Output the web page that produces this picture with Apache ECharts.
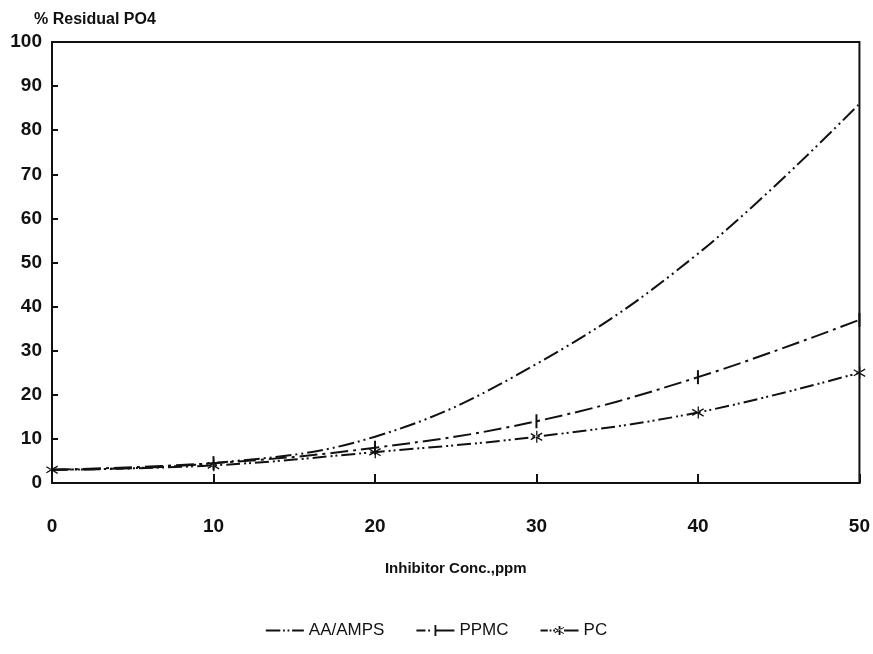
<!DOCTYPE html>
<html>
<head>
<meta charset="utf-8">
<script src="https://cdn.jsdelivr.net/npm/echarts@6/dist/echarts.min.js"></script>
<style>
  html, body { margin: 0; padding: 0; background: #fff; }
  #chart { width: 873px; height: 654px; }
</style>
</head>
<body>
<div id="chart"></div>
<script>
// data
var conc = [0, 10, 20, 30, 40, 50];
var aaAmps = [3, 4.5, 10.5, 27, 52, 86];
var ppmc = [3, 4.5, 8, 14, 24, 37];
var pc = [3, 4, 7, 10.5, 16, 25];
var yTicks = [0, 10, 20, 30, 40, 50, 60, 70, 80, 90, 100];

var font = "Liberation Sans, Arial, sans-serif";
var ink = "#111";
// asterisk marker for PC, thin vertical bar for PPMC
var star = "path://M9,0H11V20H9ZM1,4L19,15L18,17L0,6ZM1,16L19,5L18,3L0,14Z";

// legend icons drawn as paths in a 42x12 box (corner specks keep the box size)
var box = "M0,0L0.1,0L0,0.1Z M42,12L41.9,12L42,11.9Z ";
var iconAA = "path://" + box + "M0,5H16V7H0Z M19,5H21V7H19Z M24,5H26V7H24Z M29,5H42V7H29Z";
var iconPPMC = "path://" + box + "M0,5H10V7H0Z M13,5H15V7H13Z M20,0H22V12H20Z M22,5H42V7H22Z";
var iconPC = "path://" + box + "M0,5H8V7H0Z M10,5H12V7H10Z M14,5H16V7H14Z M20,1H22V11H20Z " +
    "M16,3L26,9L25.5,10L15.5,4Z M16,9L26,3L25.5,2L15.5,8Z M26,5H42V7H26Z";

function pairs(vals) {
    return conc.map((c, i) => [c, vals[i]]);
}

var myChart = echarts.init(document.querySelector("#chart"));
var option = {
    backgroundColor: "#fff",
    animation: false,
    grid: {
        left: 52,
        right: 11,
        top: 42,
        bottom: 171,
        show: true,
        borderColor: ink,
        borderWidth: 2
    },
    legend: {
        bottom: 10,
        left: "center",
        itemWidth: 38,
        itemHeight: 12,
        itemGap: 32,
        textStyle: { color: ink, fontSize: 17, fontFamily: font },
        data: [
            { name: "AA/AMPS", icon: iconAA },
            { name: "PPMC", icon: iconPPMC },
            { name: "PC", icon: iconPC }
        ]
    },
    xAxis: {
        type: "value",
        min: 0,
        max: 50,
        interval: 10,
        name: "Inhibitor Conc.,ppm",
        nameLocation: "middle",
        nameGap: 78,
        nameTextStyle: { color: ink, fontSize: 15, fontWeight: "bold", fontFamily: font },
        axisLine: { lineStyle: { color: ink, width: 2 } },
        axisTick: { inside: true, length: 9, lineStyle: { color: ink, width: 2 } },
        axisLabel: { color: ink, fontSize: 19, fontWeight: "bold", fontFamily: font, margin: 34 },
        splitLine: { show: false }
    },
    yAxis: {
        type: "value",
        min: 0,
        max: 100,
        interval: 10,
        name: "% Residual PO4",
        nameLocation: "end",
        nameGap: 14,
        nameTextStyle: { color: ink, fontSize: 16, fontWeight: "bold", fontFamily: font, align: "left", padding: [0, 0, 0, -18] },
        axisLine: { lineStyle: { color: ink, width: 2 } },
        axisTick: { inside: true, length: 6, lineStyle: { color: ink, width: 2 } },
        axisLabel: {
            color: ink, fontSize: 19, fontWeight: "bold", fontFamily: font, margin: 10,
            formatter: v => yTicks.indexOf(v) >= 0 ? String(v) : ""
        },
        splitLine: { show: false }
    },
    series: [
        {
            name: "AA/AMPS",
            type: "line",
            data: pairs(aaAmps),
            smooth: 0.4,
            symbol: "none",
            color: ink,
            lineStyle: { color: ink, width: 2, type: [16, 4, 2, 4, 2, 4] }
        },
        {
            name: "PPMC",
            type: "line",
            data: pairs(ppmc),
            smooth: 0.4,
            symbol: "rect",
            symbolSize: [2, 14],
            color: ink,
            itemStyle: { color: ink },
            lineStyle: { color: ink, width: 2, type: [18, 5, 3, 5] }
        },
        {
            name: "PC",
            type: "line",
            data: pairs(pc),
            smooth: 0.4,
            symbol: star,
            symbolSize: 12,
            color: ink,
            itemStyle: { color: ink },
            lineStyle: { color: ink, width: 2, type: [14, 4, 2, 3, 2, 4] }
        }
    ]
};
myChart.setOption(option);
</script>
</body>
</html>
